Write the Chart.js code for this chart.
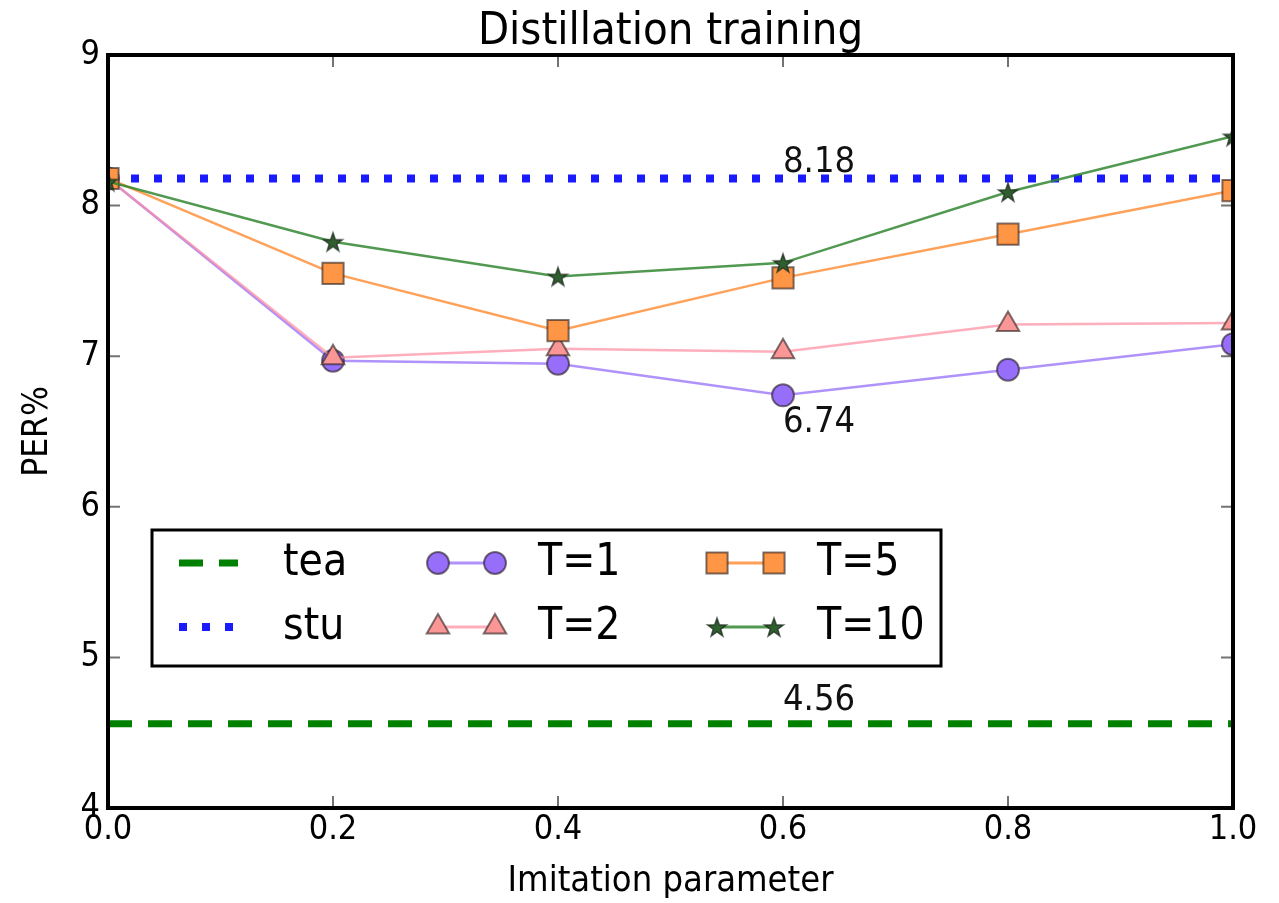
<!DOCTYPE html>
<html>
<head>
<meta charset="utf-8">
<title>Distillation training</title>
<script src="https://cdn.jsdelivr.net/npm/chart.js@4.4.1/dist/chart.umd.min.js"></script>
<style>
    html, body { margin: 0; padding: 0; background: #fff; }
    #wrap { width: 1279px; height: 903px; }
</style>
</head>
<body>
<div id="wrap"><canvas id="grafico" width="1279" height="903"></canvas></div>
<script>
// ---- data ----
const imitationParam = [0.0, 0.2, 0.4, 0.6, 0.8, 1.0];
const perT1  = [8.18, 6.97, 6.95, 6.74, 6.91, 7.08];
const perT2  = [8.18, 6.99, 7.05, 7.03, 7.21, 7.22];
const perT5  = [8.18, 7.55, 7.17, 7.52, 7.81, 8.10];
const perT10 = [8.16, 7.76, 7.53, 7.62, 8.09, 8.46];
const teacherPER = 4.56;
const studentPER = 8.18;
const xTicks = [0.0, 0.2, 0.4, 0.6, 0.8, 1.0];
const yTicks = [4, 5, 6, 7, 8, 9];
// notes written on the plot: [x, y of baseline, text]
const notes = [
    [0.6, 8.22, '8.18'],
    [0.6, 6.50, '6.74'],
    [0.6, 4.65, '4.56']
];
const chartTitle = 'Distillation training';

const FONT = "'DejaVu Sans Condensed', 'DejaVu Sans', sans-serif";
Chart.defaults.font.family = FONT;
Chart.defaults.color = '#000';

/**
 * Filled star marker (like matplotlib '*')
 */
function makeStar(fill, edge) {
    const c = document.createElement('canvas');
    c.width = 24; c.height = 24;
    const ctx = c.getContext('2d');
    ctx.beginPath();
    for (let i = 0; i < 10; i++) {
        const r = i % 2 === 0 ? 10 : 4;
        const a = -Math.PI / 2 + i * Math.PI / 5;
        ctx.lineTo(12 + r * Math.cos(a), 13 + r * Math.sin(a));
    }
    ctx.closePath();
    ctx.fillStyle = fill;
    ctx.fill();
    ctx.lineWidth = 1.5;
    ctx.strokeStyle = edge;
    ctx.stroke();
    return c;
}

const toPoints = (ys) => imitationParam.map((x, i) => ({ x: x, y: ys[i] }));
const flat = (y) => [{ x: 0, y: y }, { x: 1, y: y }];

const EDGE = 'rgba(40,30,30,0.6)';
const starImg = makeStar('#2f5f2f', 'rgba(30,40,30,0.7)');

const datasets = [
    { label: 'tea', data: flat(teacherPER), borderColor: '#008000', borderWidth: 7,
      borderDash: [24, 16], pointRadius: 0 },
    { label: 'stu', data: flat(studentPER), borderColor: '#1a1aff', borderWidth: 8,
      borderDash: [8, 15], pointRadius: 0 },
    { label: 'T=1', data: toPoints(perT1), borderColor: 'rgba(150,110,250,0.75)', borderWidth: 2.5,
      pointStyle: 'circle', pointRadius: 11, pointBackgroundColor: 'rgb(150,110,250)',
      pointBorderColor: EDGE, pointBorderWidth: 2 },
    { label: 'T=2', data: toPoints(perT2), borderColor: 'rgba(255,140,160,0.7)', borderWidth: 2.5,
      pointStyle: 'triangle', pointRadius: 13, pointBackgroundColor: 'rgb(250,150,150)',
      pointBorderColor: EDGE, pointBorderWidth: 2 },
    { label: 'T=5', data: toPoints(perT5), borderColor: 'rgba(255,145,60,0.85)', borderWidth: 2.5,
      pointStyle: 'rect', pointRadius: 15, pointBackgroundColor: 'rgb(255,150,70)',
      pointBorderColor: EDGE, pointBorderWidth: 2 },
    { label: 'T=10', data: toPoints(perT10), borderColor: 'rgba(50,135,50,0.85)', borderWidth: 2.5,
      pointStyle: starImg, pointRadius: 10 }
];
// later series are drawn on top, as in the original plot
datasets.forEach((d, i) => { d.tension = 0; d.fill = false; d.order = datasets.length - i; });

// boxed legend: columns of labels, with marker and text positions
const legendCols = [['tea', 'stu'], ['T=1', 'T=2'], ['T=5', 'T=10']];
const legendBox = { x: 152, y: 530, w: 789, h: 136 };

const plotExtras = {
    id: 'plotExtras',
    beforeDraw(chart) {
        const { ctx, chartArea: a } = chart;
        ctx.save();
        ctx.fillStyle = '#000';
        ctx.font = '45px ' + FONT;
        ctx.textAlign = 'center';
        ctx.textBaseline = 'alphabetic';
        ctx.fillText(chartTitle, (a.left + a.right) / 2, 44);
        ctx.restore();
    },
    afterDatasetsDraw(chart) {
        const { ctx, scales: { x, y } } = chart;
        ctx.save();
        ctx.fillStyle = '#111';
        ctx.font = '36px ' + FONT;
        ctx.textAlign = 'left';
        ctx.textBaseline = 'alphabetic';
        notes.forEach(n => ctx.fillText(n[2], x.getPixelForValue(n[0]), y.getPixelForValue(n[1])));
        ctx.restore();
    },
    afterDraw(chart) {
        const { ctx, chartArea: a, scales: { x, y } } = chart;
        ctx.save();
        // inward ticks on all four sides
        ctx.strokeStyle = 'rgba(0,0,0,0.55)';
        ctx.lineWidth = 2;
        ctx.beginPath();
        xTicks.forEach(v => {
            const px = x.getPixelForValue(v);
            ctx.moveTo(px, a.bottom); ctx.lineTo(px, a.bottom - 12);
            ctx.moveTo(px, a.top); ctx.lineTo(px, a.top + 12);
        });
        yTicks.forEach(v => {
            const py = y.getPixelForValue(v);
            ctx.moveTo(a.left, py); ctx.lineTo(a.left + 12, py);
            ctx.moveTo(a.right, py); ctx.lineTo(a.right - 12, py);
        });
        ctx.stroke();
        // frame
        ctx.strokeStyle = '#000';
        ctx.lineWidth = 4;
        ctx.strokeRect(a.left, a.top, a.right - a.left, a.bottom - a.top);

        // legend
        const box = legendBox;
        ctx.fillStyle = '#fff';
        ctx.fillRect(box.x, box.y, box.w, box.h);
        ctx.lineWidth = 3;
        ctx.strokeRect(box.x, box.y, box.w, box.h);
        const colX = [179, 438, 717];
        const textX = [283, 538, 817];
        const rowY = [563, 627];
        const all = chart.data.datasets;
        legendCols.forEach((col, ci) => {
            col.forEach((label, ri) => {
                const ds = all.find(d => d.label === label);
                const x0 = colX[ci], x1 = ci === 0 ? 238 : x0 + 57, yy = rowY[ri];
                ctx.save();
                ctx.strokeStyle = ds.borderColor;
                ctx.lineWidth = ci === 0 ? ds.borderWidth : 3;
                ctx.setLineDash(ds.borderDash || []);
                ctx.beginPath();
                ctx.moveTo(x0, yy); ctx.lineTo(x1, yy);
                ctx.stroke();
                ctx.restore();
                if (ds.pointRadius) {
                    [x0, x1].forEach(px => {
                        ctx.save();
                        ctx.fillStyle = ds.pointBackgroundColor || '#000';
                        ctx.strokeStyle = ds.pointBorderColor || '#000';
                        ctx.lineWidth = ds.pointBorderWidth || 1;
                        Chart.helpers.drawPoint(ctx, { pointStyle: ds.pointStyle, radius: ds.pointRadius, borderWidth: ds.pointBorderWidth || 1, rotation: 0 }, px, yy);
                        ctx.restore();
                    });
                }
                ctx.fillStyle = '#000';
                ctx.font = '44px ' + FONT;
                ctx.textAlign = 'left';
                ctx.textBaseline = 'middle';
                ctx.fillText(label, textX[ci], yy + 1);
            });
        });
        ctx.restore();
    }
};

new Chart(document.getElementById('grafico').getContext('2d'), {
    type: 'line',
    data: { datasets: datasets },
    options: {
        responsive: false,
        animation: false,
        layout: { padding: { left: 0, right: 46, top: 55, bottom: 0 } },
        plugins: {
            legend: { display: false },
            tooltip: { enabled: false },
            title: { display: false }
        },
        scales: {
            x: {
                type: 'linear',
                min: 0, max: 1,
                afterBuildTicks: (s) => { s.ticks = xTicks.map(v => ({ value: v })); },
                afterFit: (s) => { s.height = 95; },
                grid: { display: false, drawTicks: false },
                border: { display: false },
                ticks: {
                    font: { size: 34 },
                    color: '#000',
                    padding: 2,
                    maxRotation: 0,
                    callback: (v) => Number(v).toFixed(1)
                },
                title: {
                    display: true,
                    text: 'Imitation parameter',
                    font: { size: 36 },
                    color: '#000',
                    padding: { top: 0, bottom: 0 }
                }
            },
            y: {
                min: 4, max: 9,
                afterBuildTicks: (s) => { s.ticks = yTicks.map(v => ({ value: v })); },
                afterFit: (s) => { s.width = 108; },
                grid: { display: false, drawTicks: false },
                border: { display: false },
                ticks: { font: { size: 34 }, color: '#000', padding: 8 },
                title: {
                    display: true,
                    text: 'PER%',
                    font: { size: 35 },
                    color: '#000',
                    padding: { top: 17, bottom: 0 }
                }
            }
        }
    },
    plugins: [plotExtras]
});
</script>
</body>
</html>
